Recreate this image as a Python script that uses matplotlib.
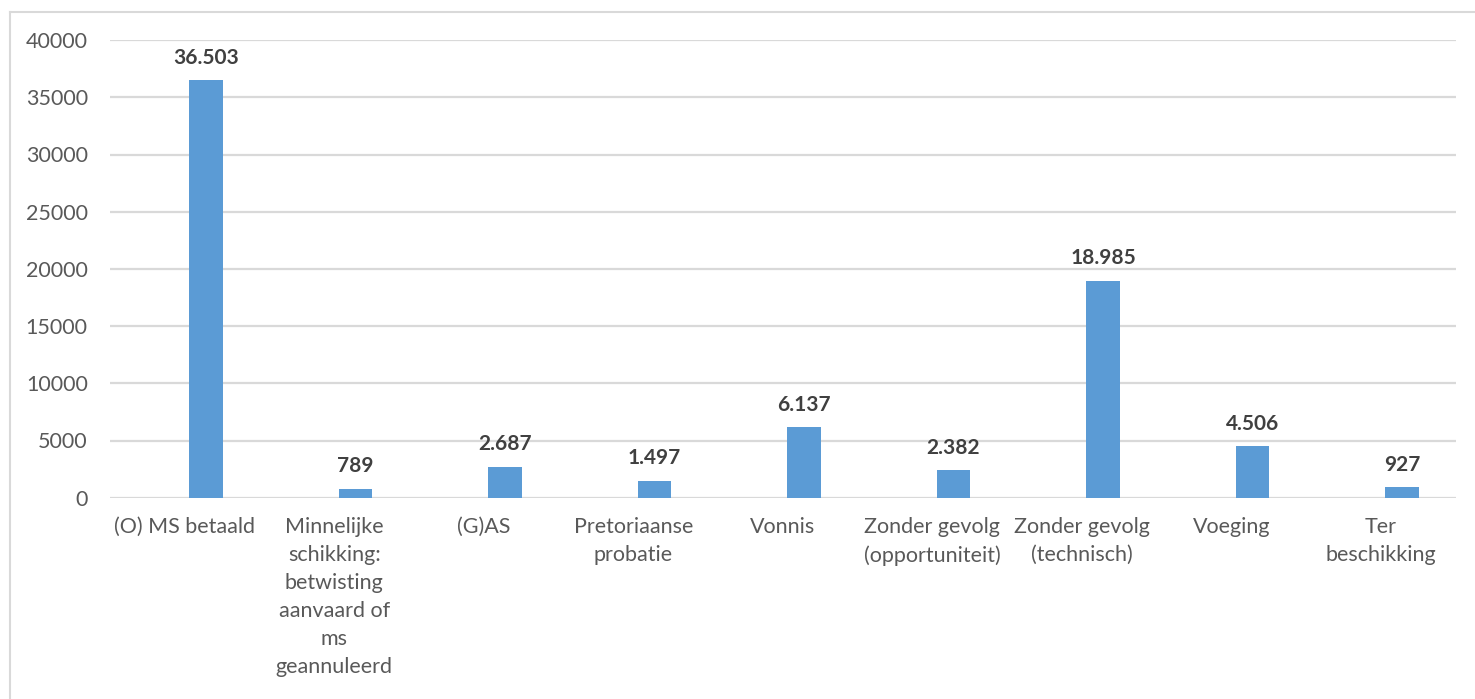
import matplotlib
matplotlib.use('Agg')
import matplotlib.pyplot as plt
from matplotlib.lines import Line2D

categories = [
    '(O) MS betaald',
    'Minnelijke\nschikking:\nbetwisting\naanvaard of\nms\ngeannuleerd',
    '(G)AS',
    'Pretoriaanse\nprobatie',
    'Vonnis',
    'Zonder gevolg\n(opportuniteit)',
    'Zonder gevolg\n(technisch)',
    'Voeging',
    'Ter\nbeschikking',
]
values = [36503, 789, 2687, 1497, 6137, 2382, 18985, 4506, 927]
y_ticks = [0, 5000, 10000, 15000, 20000, 25000, 30000, 35000, 40000]

plt.rcParams['font.family'] = ['Lato', 'DejaVu Sans']

fig = plt.figure(figsize=(14.75, 6.99), dpi=100)
ax = fig.add_axes([110 / 1475, 201.3 / 699, 1345.7 / 1475, 457.6 / 699])

x = list(range(len(categories)))
bar_x = [i + 0.141 for i in x]
ax.bar(bar_x, values, width=0.225, color='#5b9bd5', zorder=3)

for bx, v in zip(bar_x, values):
    label = f'{v:,}'.replace(',', '.')
    ax.annotate(label, (bx, v), xytext=(0, 9), textcoords='offset points',
                ha='center', va='bottom', fontsize=15, fontweight='bold',
                color='#404040')

ax.set_xlim(-0.5, len(categories) - 0.5)
ax.set_ylim(0, 40000)
ax.set_yticks(y_ticks)
ax.set_yticklabels([str(t) for t in y_ticks])
ax.set_xticks(x)
ax.set_xticklabels(categories, linespacing=1.5)

ax.grid(axis='y', color='#d9d9d9', linewidth=1.6, zorder=0)
for s in ax.spines.values():
    s.set_visible(False)
ax.tick_params(axis='y', length=0, pad=16, labelsize=15.5, labelcolor='#595959')
ax.tick_params(axis='x', length=0, pad=14, labelsize=15.5, labelcolor='#595959')

# outer chart border (left and top edges visible)
fig.add_artist(Line2D([9.5 / 1475, 9.5 / 1475], [0, 1 - 12 / 699],
                      transform=fig.transFigure, color='#d9d9d9', linewidth=1.5))
fig.add_artist(Line2D([9.5 / 1475, 1], [1 - 12 / 699, 1 - 12 / 699],
                      transform=fig.transFigure, color='#d9d9d9', linewidth=1.5))

fig.savefig('out.png', dpi=100, facecolor='white')
